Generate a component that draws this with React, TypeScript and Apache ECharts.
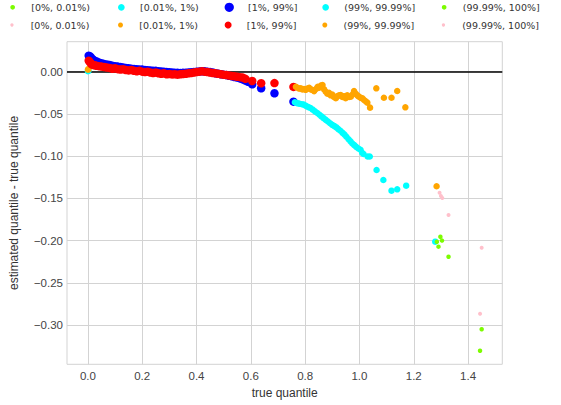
import React, { useEffect, useRef } from 'react';
import * as echarts from 'echarts';

// ---------- data ----------
const xTicks = [0, 0.2, 0.4, 0.6, 0.8, 1.0, 1.2, 1.4];
const yTicks = [-0.3, -0.25, -0.2, -0.15, -0.1, -0.05, 0];
const bucketLabels = ['[0%, 0.01%)', '[0.01%, 1%)', '[1%, 99%]', '(99%, 99.99%]', '(99.99%, 100%]'];

// group A (green / cyan / blue / cyan / green)
const aLow0: number[][] = [[0.0, 0.0]];
const aLow1: number[][] = [[0.0, 0.0005], [0.002, 0.001]];
const aMid: number[][] = [
  [0.003, 0.019], [0.008, 0.018], [0.013, 0.016], [0.018, 0.0145], [0.025, 0.013], [0.032, 0.012],
  [0.04, 0.011], [0.05, 0.01], [0.06, 0.009], [0.07, 0.0085], [0.08, 0.008], [0.09, 0.007],
  [0.1, 0.0065], [0.11, 0.006], [0.12, 0.0055], [0.13, 0.005], [0.14, 0.0045], [0.15, 0.004],
  [0.16, 0.0035], [0.17, 0.0032], [0.18, 0.003], [0.19, 0.0027], [0.2, 0.0025], [0.21, 0.002],
  [0.22, 0.0018], [0.23, 0.0015], [0.24, 0.0012], [0.25, 0.001], [0.26, 0.0006], [0.27, 0.0003],
  [0.28, 0.0], [0.29, -0.0003], [0.3, -0.0006], [0.31, -0.0009], [0.32, -0.0012], [0.33, -0.0014],
  [0.34, -0.0015], [0.35, -0.0014], [0.36, -0.0012], [0.37, -0.0009], [0.38, -0.0006], [0.39, -0.0003],
  [0.4, 0.0], [0.41, 0.0003], [0.42, 0.0005], [0.43, 0.0004], [0.44, 0.0], [0.45, -0.0005],
  [0.46, -0.001], [0.47, -0.0018], [0.48, -0.0025], [0.49, -0.003], [0.5, -0.0035], [0.51, -0.004],
  [0.52, -0.0048], [0.53, -0.0055], [0.54, -0.0063], [0.55, -0.007], [0.56, -0.008], [0.57, -0.009],
  [0.58, -0.0105], [0.59, -0.012], [0.605, -0.015], [0.638, -0.0197], [0.687, -0.0256], [0.757, -0.0355],
];
const aHigh1: number[][] = [
  [0.762, -0.0362], [0.768, -0.037], [0.774, -0.0376], [0.78, -0.038], [0.788, -0.0385], [0.795, -0.039],
  [0.803, -0.0405], [0.812, -0.042], [0.82, -0.043], [0.828, -0.045], [0.836, -0.047], [0.845, -0.049],
  [0.853, -0.051], [0.86, -0.053], [0.868, -0.055], [0.876, -0.057], [0.884, -0.059], [0.892, -0.061],
  [0.9, -0.063], [0.908, -0.0645], [0.915, -0.066], [0.922, -0.068], [0.93, -0.07], [0.938, -0.0725],
  [0.945, -0.0745], [0.952, -0.077], [0.96, -0.08], [0.967, -0.0825], [0.974, -0.085], [0.981, -0.087],
  [0.988, -0.089], [0.996, -0.091], [1.004, -0.0925], [1.01, -0.096], [1.015, -0.0975], [1.03, -0.1005],
  [1.038, -0.1005], [1.063, -0.1164], [1.088, -0.1283], [1.118, -0.1409], [1.139, -0.1393], [1.172, -0.135],
  [1.279, -0.2013],
];
const aHigh0: number[][] = [
  [1.298, -0.1954], [1.304, -0.2], [1.285, -0.2013], [1.291, -0.2072], [1.328, -0.2191], [1.45, -0.305], [1.444, -0.3304],
];

// group B (pink / orange / red / orange / pink)
const bLow0: number[][] = [[0.0, 0.002]];
const bLow1: number[][] = [[0.0, 0.0025], [0.002, 0.003]];
const bMid: number[][] = [
  [0.003, 0.013], [0.008, 0.011], [0.013, 0.009], [0.018, 0.008], [0.025, 0.0075], [0.032, 0.007],
  [0.04, 0.0065], [0.05, 0.006], [0.06, 0.0055], [0.07, 0.005], [0.08, 0.0045], [0.09, 0.0035],
  [0.1, 0.004], [0.11, 0.003], [0.12, 0.0025], [0.13, 0.003], [0.14, 0.002], [0.15, 0.0015],
  [0.16, 0.002], [0.17, 0.001], [0.18, 0.0005], [0.19, 0.001], [0.2, 0.0], [0.21, -0.0005],
  [0.22, 0.0], [0.23, -0.001], [0.24, -0.0015], [0.25, -0.001], [0.26, -0.002], [0.27, -0.0025],
  [0.28, -0.002], [0.29, -0.003], [0.3, -0.0028], [0.31, -0.0032], [0.32, -0.003], [0.33, -0.0035],
  [0.34, -0.003], [0.35, -0.0028], [0.36, -0.0025], [0.37, -0.002], [0.38, -0.0015], [0.39, -0.001],
  [0.4, -0.0005], [0.41, 0.0], [0.42, 0.0005], [0.43, 0.0], [0.44, -0.0005], [0.45, -0.001],
  [0.46, -0.0015], [0.47, -0.002], [0.48, -0.0025], [0.49, -0.003], [0.5, -0.0035], [0.51, -0.004],
  [0.52, -0.0045], [0.53, -0.005], [0.54, -0.0055], [0.55, -0.006], [0.56, -0.0065], [0.57, -0.007],
  [0.58, -0.0085], [0.605, -0.011], [0.638, -0.0137], [0.687, -0.0135], [0.757, -0.018],
];
const bHigh1: number[][] = [
  [0.766, -0.0178], [0.772, -0.019], [0.778, -0.02], [0.784, -0.0197], [0.79, -0.021], [0.796, -0.0205],
  [0.802, -0.0215], [0.808, -0.02], [0.815, -0.019], [0.821, -0.021], [0.827, -0.0217], [0.833, -0.023],
  [0.84, -0.0205], [0.846, -0.0178], [0.852, -0.019], [0.858, -0.0165], [0.864, -0.0158], [0.87, -0.021],
  [0.876, -0.0237], [0.882, -0.026], [0.888, -0.025], [0.894, -0.028], [0.9, -0.027], [0.906, -0.03],
  [0.913, -0.0315], [0.919, -0.029], [0.925, -0.028], [0.931, -0.0276], [0.937, -0.03], [0.943, -0.029],
  [0.949, -0.0315], [0.955, -0.028], [0.962, -0.03], [0.968, -0.0296], [0.974, -0.027], [0.98, -0.0229],
  [0.986, -0.026], [0.992, -0.028], [0.998, -0.0296], [1.005, -0.031], [1.011, -0.0315], [1.017, -0.0335],
  [1.023, -0.035], [1.029, -0.0367], [1.039, -0.0426], [1.062, -0.0197], [1.09, -0.0308], [1.118, -0.0308],
  [1.139, -0.0229], [1.169, -0.0422], [1.284, -0.1357],
];
const bHigh0: number[][] = [
  [1.295, -0.1433], [1.3, -0.1472], [1.305, -0.1496], [1.328, -0.1697], [1.45, -0.2084], [1.444, -0.2866],
];

const groupA = [aLow0, aLow1, aMid, aHigh1, aHigh0];
const groupB = [bLow0, bLow1, bMid, bHigh1, bHigh0];

// ---------- styles ----------
const colorsA = ['#7cfc00', '#00ffff', '#0000ff', '#00ffff', '#7cfc00'];
const colorsB = ['#ffc0cb', '#ffa500', '#ff0000', '#ffa500', '#ffc0cb'];
const sizesA = [4.5, 6.5, 8.5, 6.5, 4.5];
const sizesB = [4, 6.5, 8.5, 6.5, 4];
const legSizesA = [4.7, 6.7, 9.3, 6.7, 4.7];
const legSizesB = [3.3, 5, 7, 5, 3.3];
const legCx = [24, 131.7, 238.3, 336, 455.5];
const legCy = [7.3, 25];

export default function App() {
  const ref = useRef<HTMLDivElement>(null);
  useEffect(() => {
    if (!ref.current) return;
    const chart = echarts.init(ref.current, undefined, { renderer: 'svg' });

    const series: any[] = [
      {
        type: 'scatter',
        name: '__zero',
        data: [],
        z: 1,
        silent: true,
        markLine: {
          z: 1,
          silent: true,
          symbol: 'none',
          animation: false,
          label: { show: false },
          lineStyle: { color: '#000000', width: 1.5, type: 'solid' },
          data: [{ yAxis: 0 }],
        },
      },
    ];
    const nameMap: Record<string, string> = {};
    for (let i = 0; i < 5; i++) {
      const na = 'A' + i;
      const nb = 'B' + i;
      nameMap[na] = bucketLabels[i];
      nameMap[nb] = bucketLabels[i];
      series.push({
        type: 'scatter', name: na, data: groupA[i], symbol: 'circle', symbolSize: sizesA[i],
        itemStyle: { color: colorsA[i], opacity: 1 }, z: 2,
      });
      series.push({
        type: 'scatter', name: nb, data: groupB[i], symbol: 'circle', symbolSize: sizesB[i],
        itemStyle: { color: colorsB[i], opacity: 1 }, z: 2,
      });
    }

    const iw = 27.4;
    const legends: any[] = [];
    for (let row = 0; row < 2; row++) {
      for (let i = 0; i < 5; i++) {
        const sz = row === 0 ? legSizesA[i] : legSizesB[i];
        legends.push({
          show: true,
          left: legCx[i] - iw / 2,
          top: legCy[row] - 6,
          padding: 0,
          itemWidth: iw,
          itemHeight: sz,
          selectedMode: false,
          data: [{ name: (row === 0 ? 'A' : 'B') + i, icon: 'circle' }],
          formatter: (n: string) => nameMap[n] ?? n,
          textStyle: { fontSize: 9.5, lineHeight: 12, fontFamily: 'DejaVu Sans', color: '#333333' },
        });
      }
    }

    const gridColor = '#d3d3d3';
    const labelFont = { fontFamily: 'Liberation Sans', fontSize: 11.5, color: '#444444' };

    chart.setOption({
      animation: false,
      backgroundColor: '#ffffff',
      legend: legends,
      grid: {
        left: 65, right: 58.7, top: 41.7, bottom: 40.7,
        show: true, borderColor: gridColor, borderWidth: 1, backgroundColor: '#ffffff',
      },
      xAxis: {
        type: 'value',
        min: -0.077,
        max: 1.526,
        name: 'true quantile',
        nameLocation: 'middle',
        nameGap: 22,
        nameTextStyle: { fontFamily: 'Liberation Sans', fontSize: 12, color: '#333333' },
        axisLine: { show: false },
        axisTick: { show: false, customValues: xTicks },
        axisLabel: {
          customValues: xTicks, margin: 6, ...labelFont,
          formatter: (v: number) => v.toFixed(1),
        },
        splitLine: { show: true, lineStyle: { color: gridColor, width: 1 } },
      },
      yAxis: {
        type: 'value',
        min: -0.3465,
        max: 0.0355,
        name: 'estimated quantile - true quantile',
        nameLocation: 'middle',
        nameGap: 47,
        nameTextStyle: { fontFamily: 'Liberation Sans', fontSize: 12, color: '#333333' },
        axisLine: { show: false },
        axisTick: { show: false, customValues: yTicks },
        axisLabel: {
          customValues: yTicks, margin: 4, ...labelFont,
          formatter: (v: number) => v.toFixed(2).replace('-', '\u2212'),
        },
        splitLine: { show: true, lineStyle: { color: gridColor, width: 1 } },
      },
      series,
    });
    return () => chart.dispose();
  }, []);
  return (
    <div
      ref={ref}
      style={{ position: 'fixed', left: 0, top: 0, width: 561, height: 405, background: '#fff' }}
    />
  );
}
